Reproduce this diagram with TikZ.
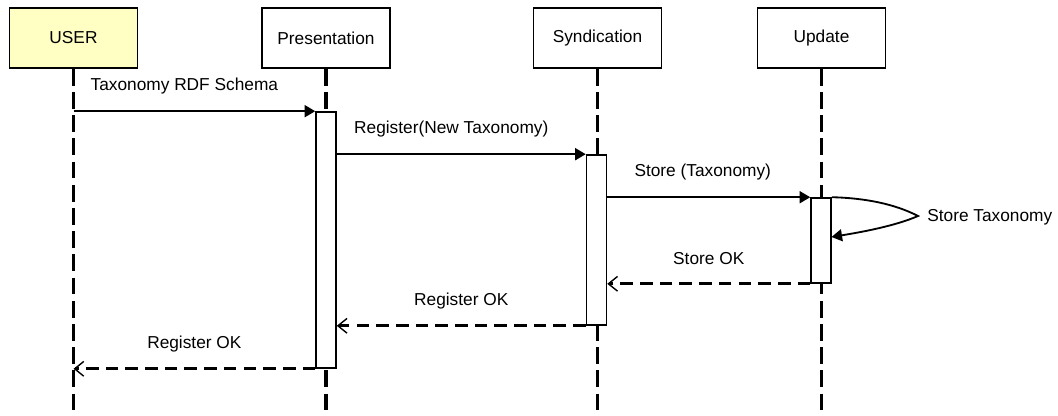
\documentclass[tikz,border=0pt]{standalone}
\usepackage{fontspec}
\setmainfont{Liberation Sans}
\usetikzlibrary{arrows.meta,positioning}
\definecolor{userfill}{RGB}{255,255,196}
\begin{document}
\begin{tikzpicture}[x=0.025cm,y=-0.025cm,
		font=\fontsize{12.3}{14}\selectfont,
		object/.style={draw,line width=1.1pt,minimum width=3.2cm,minimum height=1.5cm,inner sep=0pt},
		lifeline/.style={line width=2.3pt,dash pattern=on 12pt off 4.5pt},
		actbox/.style={draw,fill=white,line width=1.1pt,minimum width=0.5cm,inner sep=0pt},
		msg/.style={line width=1.3pt,-{Triangle[length=7.5pt,width=8.5pt]}},
		reply/.style={line width=2.3pt,dash pattern=on 9pt off 5pt,-{Straight Barb[length=6.5pt,width=10.5pt,line width=1pt]}},
		msglabel/.style={midway,yshift=0.62cm}]
		\useasboundingbox (0,0) rectangle (1058,415);
		%Objects at the top
		\node [object,fill=userfill] (user) at (73.5,38) {USER};
		\node [object] (pres) at (326,38) {Presentation};
		\node [object] (synd) at (597.5,38) {Syndication};
		\node [object] (upd) at (821.5,38) {Update};
		%Lifelines down to the bottom
		\coordinate (bottom) at (0,415);
		\foreach \obj in {user,pres,synd,upd} {
			\draw [lifeline] (\obj.south) -- (\obj.south |- bottom);
		}
		%Activation boxes
		\node [actbox,minimum height=6.4cm] (actPres) at (326,240) {};
		\node [actbox,minimum height=4.25cm] (actSynd) at (596.5,240) {};
		\node [actbox,minimum height=2.125cm] (actUpd) at (821,240.5) {};
		%Calls
		\draw [msg] (user.south |- actPres.north) -- (actPres.north west)
			node [msglabel,xshift=-0.25cm] {Taxonomy RDF Schema};
		\draw [msg] (actPres.east |- actSynd.north) -- (actSynd.north west)
			node [msglabel,xshift=-0.25cm] {Register(New Taxonomy)};
		\draw [msg] (actSynd.east |- actUpd.north) -- (actUpd.north west)
			node [msglabel,xshift=-0.15cm] {Store (Taxonomy)};
		%Self call on Update
		\node [anchor=west,inner sep=0pt] (selfLabel) at (927,217) {Store Taxonomy};
		\coordinate (loopTip) at (918,216);
		\coordinate (loopEnd) at (831.5,237);
		\draw [msg] (actUpd.north east) .. controls (865,198) and (895,204) .. (loopTip)
			.. controls (895,226) and (862,232) .. (loopEnd);
		%Replies
		\draw [reply] (actUpd.south west) -- (actSynd.east |- actUpd.south west)
			node [msglabel] {Store OK};
		\draw [reply] (actSynd.south west) -- (actPres.east |- actSynd.south west)
			node [msglabel] {Register OK};
		\draw [reply] (actPres.south west) -- (user.south |- actPres.south west)
			node [msglabel] {Register OK};
\end{tikzpicture}
\end{document}
